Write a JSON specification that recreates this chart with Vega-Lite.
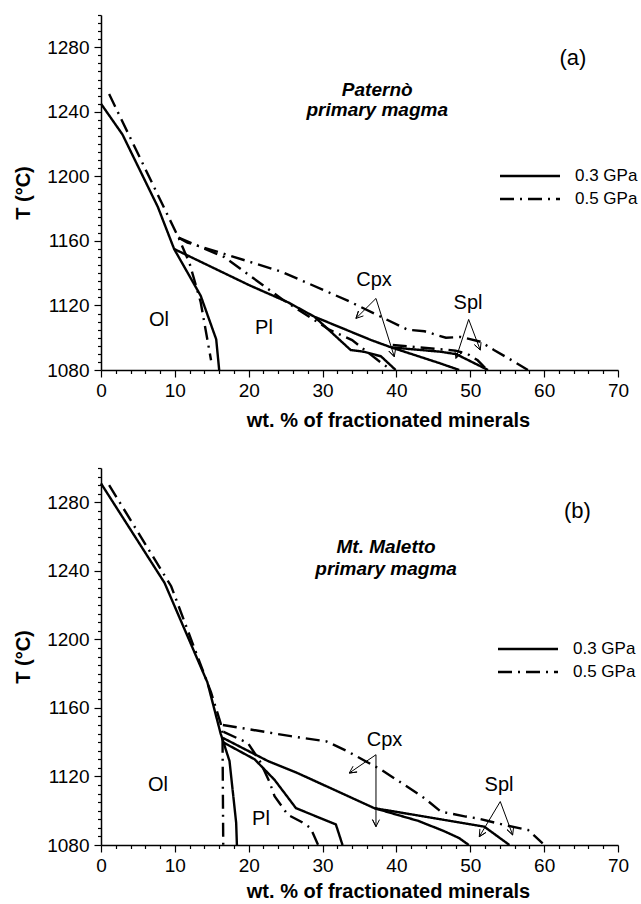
{
  "$schema": "https://vega.github.io/schema/vega-lite/v6.json",
  "padding": {"left": 13, "top": 6, "right": 2, "bottom": 0},
  "spacing": 29,
  "config": {
    "view": {"stroke": null},
    "font": "Liberation Sans",
    "axis": {"grid": false, "domainColor": "black", "domainWidth": 1.5, "tickColor": "black", "tickWidth": 1.2, "labelColor": "black", "titleColor": "black", "labelFontSize": 19, "titleFontSize": 20, "titleFontWeight": "bold", "labelFont": "Liberation Sans", "titleFont": "Liberation Sans", "labelFlush": false, "labelOverlap": false},
    "legend": {"orient": "none", "title": null, "padding": 0, "symbolType": "M-4,0H4", "symbolSize": 225, "symbolStrokeWidth": 2.4, "symbolStrokeColor": "black", "labelFontSize": 17, "labelFont": "Liberation Sans", "labelColor": "black", "labelOffset": 36, "rowPadding": 6}
  },
  "datasets": {
    "la": [
      {"id": "A1", "p": "0.3 GPa", "x": 0, "T": 1245}, {"id": "A1", "p": "0.3 GPa", "x": 2.9, "T": 1226}, {"id": "A1", "p": "0.3 GPa", "x": 7.7, "T": 1181}, {"id": "A1", "p": "0.3 GPa", "x": 9.9, "T": 1155}, {"id": "A1", "p": "0.3 GPa", "x": 13.5, "T": 1126}, {"id": "A1", "p": "0.3 GPa", "x": 15.6, "T": 1099}, {"id": "A1", "p": "0.3 GPa", "x": 16, "T": 1080},
      {"id": "A2", "p": "0.3 GPa", "x": 9.9, "T": 1155}, {"id": "A2", "p": "0.3 GPa", "x": 20.1, "T": 1132.5}, {"id": "A2", "p": "0.3 GPa", "x": 25.3, "T": 1122}, {"id": "A2", "p": "0.3 GPa", "x": 28.9, "T": 1113}, {"id": "A2", "p": "0.3 GPa", "x": 36.6, "T": 1098.5}, {"id": "A2", "p": "0.3 GPa", "x": 39.3, "T": 1094}, {"id": "A2", "p": "0.3 GPa", "x": 46, "T": 1091.3}, {"id": "A2", "p": "0.3 GPa", "x": 48.1, "T": 1089.8}, {"id": "A2", "p": "0.3 GPa", "x": 52.4, "T": 1080},
      {"id": "A3", "p": "0.3 GPa", "x": 39.3, "T": 1094}, {"id": "A3", "p": "0.3 GPa", "x": 46, "T": 1084}, {"id": "A3", "p": "0.3 GPa", "x": 48.5, "T": 1080},
      {"id": "A4", "p": "0.3 GPa", "x": 28.9, "T": 1113}, {"id": "A4", "p": "0.3 GPa", "x": 33.8, "T": 1092.4}, {"id": "A4", "p": "0.3 GPa", "x": 35.6, "T": 1091.3}, {"id": "A4", "p": "0.3 GPa", "x": 37.9, "T": 1088.5}, {"id": "A4", "p": "0.3 GPa", "x": 39.9, "T": 1080},
      {"id": "B1", "p": "0.5 GPa", "x": 1.1, "T": 1251}, {"id": "B1", "p": "0.5 GPa", "x": 10.5, "T": 1162}, {"id": "B1", "p": "0.5 GPa", "x": 12, "T": 1146}, {"id": "B1", "p": "0.5 GPa", "x": 13.5, "T": 1122}, {"id": "B1", "p": "0.5 GPa", "x": 14.9, "T": 1086},
      {"id": "B2", "p": "0.5 GPa", "x": 10.5, "T": 1162}, {"id": "B2", "p": "0.5 GPa", "x": 11.7, "T": 1159}, {"id": "B2", "p": "0.5 GPa", "x": 24.4, "T": 1141}, {"id": "B2", "p": "0.5 GPa", "x": 33.4, "T": 1123}, {"id": "B2", "p": "0.5 GPa", "x": 41.5, "T": 1105}, {"id": "B2", "p": "0.5 GPa", "x": 43.8, "T": 1104}, {"id": "B2", "p": "0.5 GPa", "x": 46.7, "T": 1100}, {"id": "B2", "p": "0.5 GPa", "x": 48.7, "T": 1100.5}, {"id": "B2", "p": "0.5 GPa", "x": 51.4, "T": 1097.5}, {"id": "B2", "p": "0.5 GPa", "x": 53.2, "T": 1092.4}, {"id": "B2", "p": "0.5 GPa", "x": 56, "T": 1085}, {"id": "B2", "p": "0.5 GPa", "x": 57.8, "T": 1080},
      {"id": "B3", "p": "0.5 GPa", "x": 10.5, "T": 1162}, {"id": "B3", "p": "0.5 GPa", "x": 16.7, "T": 1150}, {"id": "B3", "p": "0.5 GPa", "x": 24.8, "T": 1123}, {"id": "B3", "p": "0.5 GPa", "x": 30.9, "T": 1105}, {"id": "B3", "p": "0.5 GPa", "x": 34, "T": 1098.5}, {"id": "B3", "p": "0.5 GPa", "x": 37.5, "T": 1086}, {"id": "B3", "p": "0.5 GPa", "x": 39.3, "T": 1080},
      {"id": "B4", "p": "0.5 GPa", "x": 39.5, "T": 1095.5}, {"id": "B4", "p": "0.5 GPa", "x": 48, "T": 1092}, {"id": "B4", "p": "0.5 GPa", "x": 49.6, "T": 1090}, {"id": "B4", "p": "0.5 GPa", "x": 51, "T": 1086}, {"id": "B4", "p": "0.5 GPa", "x": 52.3, "T": 1080}
    ],
    "lb": [
      {"id": "C1", "p": "0.3 GPa", "x": 0, "T": 1291}, {"id": "C1", "p": "0.3 GPa", "x": 8.6, "T": 1233}, {"id": "C1", "p": "0.3 GPa", "x": 14.4, "T": 1175}, {"id": "C1", "p": "0.3 GPa", "x": 16.2, "T": 1145}, {"id": "C1", "p": "0.3 GPa", "x": 17.4, "T": 1129}, {"id": "C1", "p": "0.3 GPa", "x": 18.3, "T": 1093}, {"id": "C1", "p": "0.3 GPa", "x": 18.4, "T": 1080},
      {"id": "C2", "p": "0.3 GPa", "x": 16.5, "T": 1142.5}, {"id": "C2", "p": "0.3 GPa", "x": 22.6, "T": 1129}, {"id": "C2", "p": "0.3 GPa", "x": 26.6, "T": 1122}, {"id": "C2", "p": "0.3 GPa", "x": 37, "T": 1101.5}, {"id": "C2", "p": "0.3 GPa", "x": 46, "T": 1095}, {"id": "C2", "p": "0.3 GPa", "x": 51.9, "T": 1090.7}, {"id": "C2", "p": "0.3 GPa", "x": 55.3, "T": 1080},
      {"id": "C3", "p": "0.3 GPa", "x": 37, "T": 1101.5}, {"id": "C3", "p": "0.3 GPa", "x": 43, "T": 1094}, {"id": "C3", "p": "0.3 GPa", "x": 46.5, "T": 1088}, {"id": "C3", "p": "0.3 GPa", "x": 48.5, "T": 1084}, {"id": "C3", "p": "0.3 GPa", "x": 49.8, "T": 1080},
      {"id": "C4", "p": "0.3 GPa", "x": 16.5, "T": 1140}, {"id": "C4", "p": "0.3 GPa", "x": 20.8, "T": 1130}, {"id": "C4", "p": "0.3 GPa", "x": 23.5, "T": 1118}, {"id": "C4", "p": "0.3 GPa", "x": 26.4, "T": 1101.5}, {"id": "C4", "p": "0.3 GPa", "x": 31.8, "T": 1092}, {"id": "C4", "p": "0.3 GPa", "x": 32.7, "T": 1080},
      {"id": "D1", "p": "0.5 GPa", "x": 1.1, "T": 1290}, {"id": "D1", "p": "0.5 GPa", "x": 9.5, "T": 1231}, {"id": "D1", "p": "0.5 GPa", "x": 14.9, "T": 1169}, {"id": "D1", "p": "0.5 GPa", "x": 16.2, "T": 1151}, {"id": "D1", "p": "0.5 GPa", "x": 16.45, "T": 1146}, {"id": "D1", "p": "0.5 GPa", "x": 16.55, "T": 1080},
      {"id": "D2", "p": "0.5 GPa", "x": 16.5, "T": 1150}, {"id": "D2", "p": "0.5 GPa", "x": 18.7, "T": 1148.5}, {"id": "D2", "p": "0.5 GPa", "x": 25.7, "T": 1143.5}, {"id": "D2", "p": "0.5 GPa", "x": 30.5, "T": 1140.5}, {"id": "D2", "p": "0.5 GPa", "x": 33.4, "T": 1134.6}, {"id": "D2", "p": "0.5 GPa", "x": 37.9, "T": 1124}, {"id": "D2", "p": "0.5 GPa", "x": 40.4, "T": 1117}, {"id": "D2", "p": "0.5 GPa", "x": 43.8, "T": 1107.3}, {"id": "D2", "p": "0.5 GPa", "x": 46, "T": 1099.5}, {"id": "D2", "p": "0.5 GPa", "x": 49.4, "T": 1096.6}, {"id": "D2", "p": "0.5 GPa", "x": 51, "T": 1095.5}, {"id": "D2", "p": "0.5 GPa", "x": 54.6, "T": 1091.7}, {"id": "D2", "p": "0.5 GPa", "x": 57.8, "T": 1088.8}, {"id": "D2", "p": "0.5 GPa", "x": 59.8, "T": 1081},
      {"id": "D3", "p": "0.5 GPa", "x": 16.6, "T": 1146}, {"id": "D3", "p": "0.5 GPa", "x": 19.9, "T": 1139.5}, {"id": "D3", "p": "0.5 GPa", "x": 21.5, "T": 1129}, {"id": "D3", "p": "0.5 GPa", "x": 22.8, "T": 1117}, {"id": "D3", "p": "0.5 GPa", "x": 23.5, "T": 1108.5}, {"id": "D3", "p": "0.5 GPa", "x": 25.3, "T": 1097.6}, {"id": "D3", "p": "0.5 GPa", "x": 27.1, "T": 1093.6}, {"id": "D3", "p": "0.5 GPa", "x": 28.4, "T": 1089.8}, {"id": "D3", "p": "0.5 GPa", "x": 29.4, "T": 1080}
    ],
    "arrows_a": [
      {"id": "Cpx", "k": 1, "x": 35.53, "T": 1113.52}, {"id": "Cpx", "k": 2, "x": 34.52, "T": 1111.97}, {"id": "Cpx", "k": 3, "x": 34.86, "T": 1116.55}, {"id": "Cpx", "k": 4, "x": 34.52, "T": 1111.97}, {"id": "Cpx", "k": 5, "x": 37.23, "T": 1124.34}, {"id": "Cpx", "k": 6, "x": 39.71, "T": 1088.23}, {"id": "Cpx", "k": 7, "x": 38.98, "T": 1091.69}, {"id": "Cpx", "k": 8, "x": 39.71, "T": 1088.23}, {"id": "Cpx", "k": 9, "x": 39.88, "T": 1092.99},
      {"id": "Spl", "k": 1, "x": 47.91, "T": 1092.06}, {"id": "Spl", "k": 2, "x": 48.06, "T": 1087.24}, {"id": "Spl", "k": 3, "x": 48.81, "T": 1090.7}, {"id": "Spl", "k": 4, "x": 48.06, "T": 1087.24}, {"id": "Spl", "k": 5, "x": 49.78, "T": 1111.35}, {"id": "Spl", "k": 6, "x": 51.35, "T": 1092.37}, {"id": "Spl", "k": 7, "x": 50.57, "T": 1095.65}, {"id": "Spl", "k": 8, "x": 51.35, "T": 1092.37}, {"id": "Spl", "k": 9, "x": 51.46, "T": 1097.19}
    ],
    "arrows_b": [
      {"id": "Cpx", "k": 1, "x": 34.13, "T": 1126.0}, {"id": "Cpx", "k": 2, "x": 33.62, "T": 1122.0}, {"id": "Cpx", "k": 3, "x": 34.67, "T": 1122.6}, {"id": "Cpx", "k": 4, "x": 33.62, "T": 1122.0}, {"id": "Cpx", "k": 5, "x": 37.23, "T": 1132.69}, {"id": "Cpx", "k": 6, "x": 37.23, "T": 1090.7}, {"id": "Cpx", "k": 7, "x": 36.76, "T": 1094.8}, {"id": "Cpx", "k": 8, "x": 37.23, "T": 1090.7}, {"id": "Cpx", "k": 9, "x": 37.71, "T": 1094.8},
      {"id": "Spl", "k": 1, "x": 51.3, "T": 1089.4}, {"id": "Spl", "k": 2, "x": 51.22, "T": 1084.86}, {"id": "Spl", "k": 3, "x": 52.11, "T": 1087.3}, {"id": "Spl", "k": 4, "x": 51.22, "T": 1084.86}, {"id": "Spl", "k": 5, "x": 54.06, "T": 1105.35}, {"id": "Spl", "k": 6, "x": 55.74, "T": 1085.85}, {"id": "Spl", "k": 7, "x": 54.97, "T": 1088.99}, {"id": "Spl", "k": 8, "x": 55.74, "T": 1085.85}, {"id": "Spl", "k": 9, "x": 55.86, "T": 1090.42}
    ]
  },
  "resolve": {"scale": {"strokeDash": "independent"}, "legend": {"strokeDash": "independent"}},
  "vconcat": [
    {
      "width": 517,
      "height": 355,
      "encoding": {
        "x": {"field": "x", "type": "quantitative", "scale": {"domain": [0, 70], "nice": false, "zero": false},
          "axis": {"title": "wt. % of fractionated minerals", "values": [0,2,4,6,8,10,12,14,16,18,20,22,24,26,28,30,32,34,36,38,40,42,44,46,48,50,52,54,56,58,60,62,64,66,68,70], "labelExpr": "datum.value % 10 === 0 ? datum.label : ''", "tickSize": {"condition": {"test": "datum.value % 10 === 0", "value": 7}, "value": 3.5}, "labelPadding": 4, "titlePadding": 10, "titleX": 287}},
        "y": {"field": "T", "type": "quantitative", "scale": {"domain": [1080, 1300], "nice": false, "zero": false},
          "axis": {"title": "T (°C)", "format": "d", "values": [1080,1085,1090,1095,1100,1105,1110,1115,1120,1125,1130,1135,1140,1145,1150,1155,1160,1165,1170,1175,1180,1185,1190,1195,1200,1205,1210,1215,1220,1225,1230,1235,1240,1245,1250,1255,1260,1265,1270,1275,1280,1285,1290,1295,1300], "labelExpr": "datum.value % 40 === 0 ? datum.label : ''", "tickSize": {"condition": {"test": "datum.value % 40 === 0", "value": 7}, "value": 3.5}, "labelPadding": 5, "titlePadding": 13}}
      },
      "layer": [
        {
          "data": {"name": "la"},
          "mark": {"type": "line", "color": "black", "strokeWidth": 2.4},
          "encoding": {
            "detail": {"field": "id"},
            "strokeDash": {"field": "p", "type": "nominal", "scale": {"domain": ["0.3 GPa", "0.5 GPa"], "range": [[1, 0], [14, 6, 2, 6]]}, "legend": {"legendX": 420, "legendY": 152}}
          }
        },
        {
          "data": {"name": "arrows_a"},
          "mark": {"type": "line", "color": "black", "strokeWidth": 1},
          "encoding": {"detail": {"field": "id"}, "order": {"field": "k", "type": "quantitative"}}
        },
        {
          "data": {"values": [{"x": 7.85, "T": 1110.9, "label": "Ol"}, {"x": 22.07, "T": 1106, "label": "Pl"}, {"x": 36.96, "T": 1135.7, "label": "Cpx"}, {"x": 49.69, "T": 1121.4, "label": "Spl"}]},
          "mark": {"type": "text", "fontSize": 20, "color": "black", "align": "center", "baseline": "middle"},
          "encoding": {"text": {"field": "label"}}
        },
        {
          "data": {"values": [{"x": 63.9, "T": 1273.3, "label": "(a)"}]},
          "mark": {"type": "text", "fontSize": 22, "color": "black", "align": "center", "baseline": "middle"},
          "encoding": {"text": {"field": "label"}}
        },
        {
          "data": {"values": [{"x": 37.4, "T": 1253.8, "label": "Paternò"}, {"x": 37.4, "T": 1241.2, "label": "primary magma"}]},
          "mark": {"type": "text", "fontSize": 19, "fontWeight": "bold", "fontStyle": "italic", "color": "black", "align": "center", "baseline": "middle"},
          "encoding": {"text": {"field": "label"}}
        }
      ]
    },
    {
      "width": 517,
      "height": 377,
      "encoding": {
        "x": {"field": "x", "type": "quantitative", "scale": {"domain": [0, 70], "nice": false, "zero": false},
          "axis": {"title": "wt. % of fractionated minerals", "values": [0,2,4,6,8,10,12,14,16,18,20,22,24,26,28,30,32,34,36,38,40,42,44,46,48,50,52,54,56,58,60,62,64,66,68,70], "labelExpr": "datum.value % 10 === 0 ? datum.label : ''", "tickSize": {"condition": {"test": "datum.value % 10 === 0", "value": 7}, "value": 3.5}, "labelPadding": 4, "titlePadding": 6, "titleX": 287}},
        "y": {"field": "T", "type": "quantitative", "scale": {"domain": [1080, 1300], "nice": false, "zero": false},
          "axis": {"title": "T (°C)", "format": "d", "values": [1080,1085,1090,1095,1100,1105,1110,1115,1120,1125,1130,1135,1140,1145,1150,1155,1160,1165,1170,1175,1180,1185,1190,1195,1200,1205,1210,1215,1220,1225,1230,1235,1240,1245,1250,1255,1260,1265,1270,1275,1280,1285,1290,1295,1300], "labelExpr": "datum.value % 40 === 0 ? datum.label : ''", "tickSize": {"condition": {"test": "datum.value % 40 === 0", "value": 7}, "value": 3.5}, "labelPadding": 5, "titlePadding": 13}}
      },
      "layer": [
        {
          "data": {"name": "lb"},
          "mark": {"type": "line", "color": "black", "strokeWidth": 2.4},
          "encoding": {
            "detail": {"field": "id"},
            "strokeDash": {"field": "p", "type": "nominal", "scale": {"domain": ["0.3 GPa", "0.5 GPa"], "range": [[1, 0], [14, 6, 2, 6]]}, "legend": {"legendX": 418, "legendY": 172}}
          }
        },
        {
          "data": {"name": "arrows_b"},
          "mark": {"type": "line", "color": "black", "strokeWidth": 1},
          "encoding": {"detail": {"field": "id"}, "order": {"field": "k", "type": "quantitative"}}
        },
        {
          "data": {"values": [{"x": 7.72, "T": 1115.1, "label": "Ol"}, {"x": 21.66, "T": 1094.9, "label": "Pl"}, {"x": 38.38, "T": 1141.5, "label": "Cpx"}, {"x": 53.89, "T": 1115.1, "label": "Spl"}]},
          "mark": {"type": "text", "fontSize": 20, "color": "black", "align": "center", "baseline": "middle"},
          "encoding": {"text": {"field": "label"}}
        },
        {
          "data": {"values": [{"x": 64.5, "T": 1274.7, "label": "(b)"}]},
          "mark": {"type": "text", "fontSize": 22, "color": "black", "align": "center", "baseline": "middle"},
          "encoding": {"text": {"field": "label"}}
        },
        {
          "data": {"values": [{"x": 38.6, "T": 1253.8, "label": "Mt. Maletto"}, {"x": 38.6, "T": 1241.0, "label": "primary magma"}]},
          "mark": {"type": "text", "fontSize": 19, "fontWeight": "bold", "fontStyle": "italic", "color": "black", "align": "center", "baseline": "middle"},
          "encoding": {"text": {"field": "label"}}
        }
      ]
    }
  ]
}
